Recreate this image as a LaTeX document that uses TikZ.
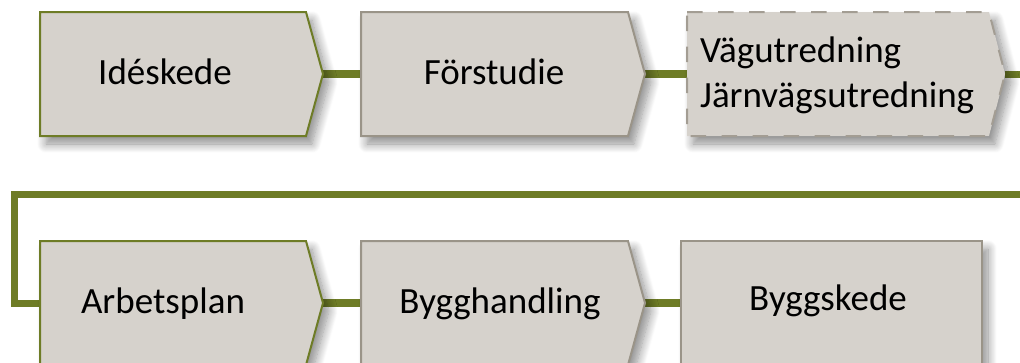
\documentclass[tikz,border=0pt]{standalone}
\usepackage{fontspec}
\setmainfont{Carlito}
\usetikzlibrary{shadows.blur}
\definecolor{boxfill}{HTML}{D6D2CC}
\definecolor{olive}{HTML}{6E7C26}
\definecolor{boxgray}{HTML}{9A9488}
\definecolor{dashgray}{HTML}{A39D93}
\tikzset{
  stagebox/.style={fill=boxfill, line width=2pt, line join=miter,
    blur shadow={shadow xshift=6pt, shadow yshift=-8pt, shadow blur radius=9pt, shadow blur steps=12, shadow opacity=45}},
  greenedge/.style={draw=olive},
  grayedge/.style={draw=boxgray},
  dashedge/.style={draw=dashgray, dash pattern=on 15.5pt off 15.5pt},
  link/.style={draw=olive, line width=8pt},
  returnlink/.style={draw=olive, line width=7pt, line join=miter},
  label/.style={font=\fontsize{37}{45}\selectfont, text=black, inner sep=0pt, anchor=base}
}
\begin{document}
\begin{tikzpicture}[x=1pt, y=-1pt]
\useasboundingbox (0,0) rectangle (1020,362);
\clip (0,0) rectangle (1020,362);
% named tips and edges
\coordinate (ide-tip) at (323,74);
\coordinate (for-w) at (361,74);
\coordinate (for-tip) at (645,74);
\coordinate (vag-w) at (687,74);
\coordinate (vag-tip) at (1005,74);
\coordinate (arb-w) at (40,303);
\coordinate (arb-tip) at (323,303);
\coordinate (byh-w) at (361,303);
\coordinate (byh-tip) at (645,303);
\coordinate (bys-w) at (681,303);
\coordinate (out-r) at (1040,74);
\coordinate (ret-l) at (14,194);
% connectors
\draw[link] (ide-tip) -- (for-w);
\draw[link] (for-tip) -- (vag-w);
\draw[returnlink] (vag-tip) -- (out-r) |- (ret-l) |- (arb-w);
\draw[link] (arb-tip) -- (byh-w);
\draw[link] (byh-tip) -- (bys-w);
% boxes
\path[stagebox, greenedge] (40,12) -- (306,12) -- (ide-tip) -- (306,136) -- (40,136) -- cycle;
\path[stagebox, grayedge] (361,12) -- (628,12) -- (for-tip) -- (628,136) -- (361,136) -- cycle;
\path[stagebox, dashedge] (687,12) -- (989,12) -- (vag-tip) -- (989,136) -- (687,136) -- cycle;
\path[stagebox, greenedge] (40,241) -- (306,241) -- (arb-tip) -- (306,365) -- (40,365) -- cycle;
\path[stagebox, grayedge] (361,241) -- (628,241) -- (byh-tip) -- (628,365) -- (361,365) -- cycle;
\path[stagebox, grayedge] (681,241) -- (982,241) -- (982,365) -- (681,365) -- cycle;
% labels
\node[label] (ide) at (165,84) {Idéskede};
\node[label] (for) at (494,84) {Förstudie};
\node[label, anchor=base west, align=left] (vag) at (700,107) {Vägutredning\\Järnvägsutredning};
\node[label] (arb) at (163,313) {Arbetsplan};
\node[label] (byh) at (500,313) {Bygghandling};
\node[label] (bys) at (828,310) {Byggskede};
\end{tikzpicture}
\end{document}
